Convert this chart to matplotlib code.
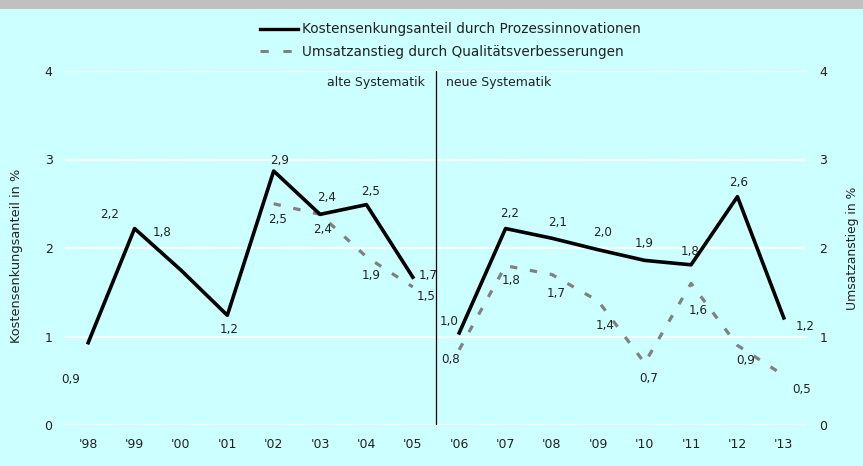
import matplotlib.pyplot as plt
from matplotlib.lines import Line2D
from matplotlib.patches import Rectangle

# Daten
jahre = ["'98", "'99", "'00", "'01", "'02", "'03", "'04", "'05",
         "'06", "'07", "'08", "'09", "'10", "'11", "'12", "'13"]

kosten_alt = [0.93, 2.22, 1.75, 1.24, 2.87, 2.38, 2.49, 1.67]
kosten_neu = [1.04, 2.22, 2.11, 1.98, 1.86, 1.81, 2.58, 1.21]
kosten_labels = ["0,9", "2,2", "1,8", "1,2", "2,9", "2,4", "2,5", "1,7",
                 "1,0", "2,2", "2,1", "2,0", "1,9", "1,8", "2,6", "1,2"]

umsatz_alt = [2.50, 2.38, 1.90, 1.56]
umsatz_neu = [0.85, 1.80, 1.70, 1.40, 0.70, 1.60, 0.90, 0.56]
umsatz_labels = ["2,5", "2,4", "1,9", "1,5",
                 "0,8", "1,8", "1,7", "1,4", "0,7", "1,6", "0,9", "0,5"]

# Beschriftungsversatz in Pixeln (dx, dy)
kosten_offsets = [(-17, -37), (-25, 14), (-19, 38), (2, -14), (6, 11), (7, 17),
                  (4, 13), (15, 2), (-10, 11), (4, 15), (6, 16), (4, 17),
                  (-1, 17), (-1, 13), (1, 14), (21, -9)]
umsatz_offsets = [(4, -16), (2, -15), (5, -19), (13, -10),
                  (-9, -10), (5, -15), (4, -19), (7, -24), (4, -15),
                  (7, -27), (8, -15), (18, -14)]

BG = "#ccffff"
GRAU = "#808080"
TEXT = "#222222"
DASH = (2.3, 4.0)

fig = plt.figure(figsize=(8.63, 4.66), dpi=100, facecolor=BG)
fig.patches.append(Rectangle((0, 1 - 8.5 / 466), 1, 8.5 / 466, transform=fig.transFigure,
                             facecolor="#c0c0c0", edgecolor="none"))
ax = fig.add_axes([65 / 863, 1 - 425 / 466, 742 / 863, 354 / 466])
ax.set_facecolor(BG)
for s in ax.spines.values():
    s.set_visible(False)

n = len(jahre)
ax.set_xlim(-0.5, n - 0.5)
ax.set_ylim(0, 4)

# Gitterlinien, pro Kategorie unterbrochen
for y in range(5):
    for i in range(n):
        ax.plot([i - 0.48, i + 0.48], [y, y], color="white", lw=1.3, zorder=1)

x_alt = list(range(len(kosten_alt)))
x_neu = list(range(len(kosten_alt), n))
x_u_alt = list(range(len(kosten_alt) - len(umsatz_alt), len(kosten_alt)))

ax.plot(x_u_alt, umsatz_alt, color=GRAU, lw=2.3, dashes=DASH, zorder=2)
ax.plot(x_neu, umsatz_neu, color=GRAU, lw=2.3, dashes=DASH, zorder=2)
ax.plot(x_alt, kosten_alt, color="black", lw=2.6, zorder=3)
ax.plot(x_neu, kosten_neu, color="black", lw=2.6, zorder=3)

for x, y, lab, (dx, dy) in zip(x_alt + x_neu, kosten_alt + kosten_neu, kosten_labels, kosten_offsets):
    ax.annotate(lab, (x, y), xytext=(dx, dy), textcoords="offset pixels",
                ha="center", va="center", fontsize=8.6, color=TEXT, zorder=4)
for x, y, lab, (dx, dy) in zip(x_u_alt + x_neu, umsatz_alt + umsatz_neu, umsatz_labels, umsatz_offsets):
    ax.annotate(lab, (x, y), xytext=(dx, dy), textcoords="offset pixels",
                ha="center", va="center", fontsize=8.6, color=TEXT, zorder=4)

# Trennlinie alte/neue Systematik
ax.plot([7.5, 7.5], [0, 4], color="black", lw=0.9, zorder=3)
ax.text(7.26, 3.94, "alte Systematik", ha="right", va="top", fontsize=9, color=TEXT)
ax.text(7.72, 3.94, "neue Systematik", ha="left", va="top", fontsize=9, color=TEXT)

ax.set_xticks(range(n))
ax.set_xticklabels(jahre, fontsize=9, color=TEXT)
ax.set_yticks(range(5))
ax.set_yticklabels([str(v) for v in range(5)], fontsize=9, color=TEXT)
ax.tick_params(axis="x", length=0, pad=9)
ax.tick_params(axis="y", length=0, pad=9)

ax2 = ax.twinx()
ax2.set_ylim(0, 4)
ax2.set_yticks(range(5))
ax2.set_yticklabels([str(v) for v in range(5)], fontsize=9, color=TEXT)
ax2.tick_params(length=0, pad=9)
for s in ax2.spines.values():
    s.set_visible(False)

fig.text(17 / 863, 1 - 256 / 466, "Kostensenkungsanteil in %", rotation=90,
         ha="center", va="center", fontsize=9.3, color=TEXT)
fig.text(852 / 863, 1 - 248 / 466, "Umsatzanstieg in %", rotation=90,
         ha="center", va="center", fontsize=8.9, color=TEXT)

handles = [Line2D([], [], color="black", lw=2.4),
           Line2D([], [], color=GRAU, lw=2.2, dashes=(2.7, 4.8))]
fig.legend(handles, ["Kostensenkungsanteil durch Prozessinnovationen",
                     "Umsatzanstieg durch Qualitätsverbesserungen"],
           loc="center left", bbox_to_anchor=(254.5 / 863, 1 - 40.5 / 466), frameon=False,
           fontsize=9.8, handlelength=2.8, handletextpad=0.3, labelspacing=0.6,
           labelcolor=TEXT, borderaxespad=0)

fig.savefig("out.png", dpi=100, facecolor=BG)
